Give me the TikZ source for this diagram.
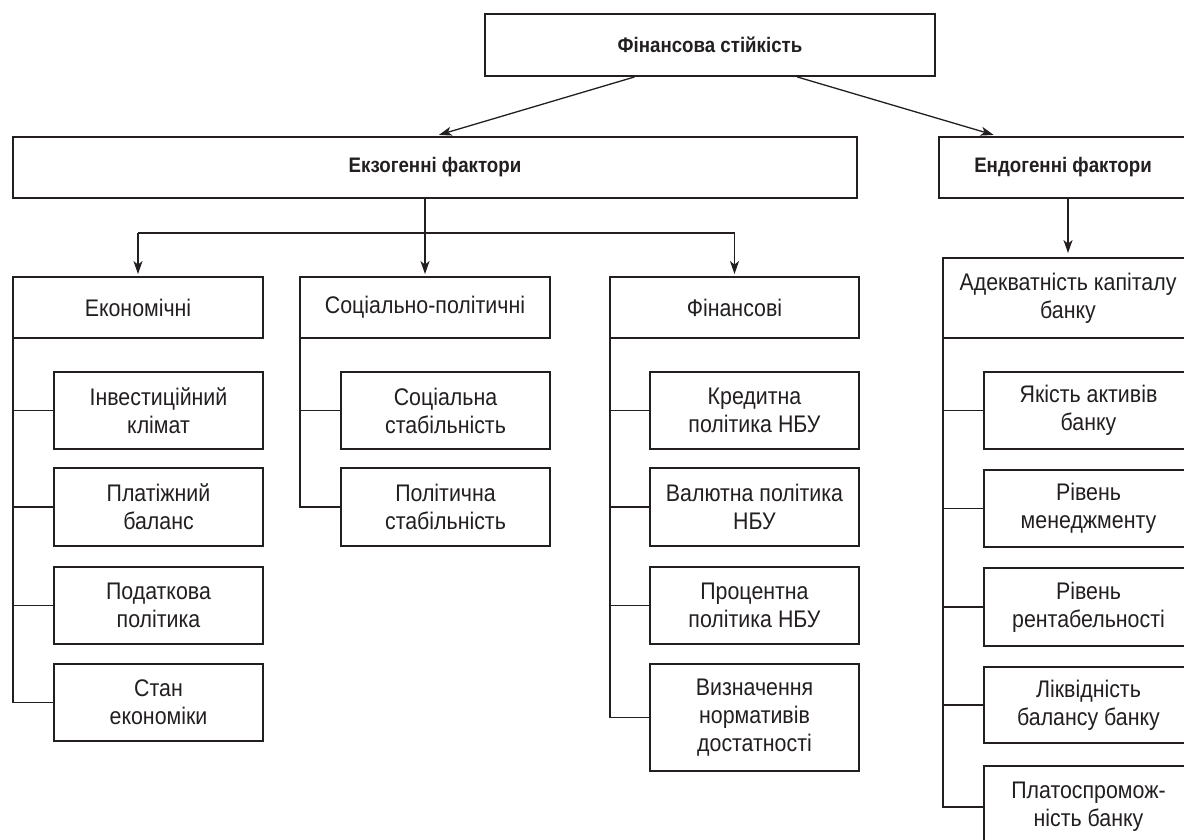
\documentclass[tikz,border=0pt]{standalone}
\usepackage{fontspec}
\setmainfont{Liberation Sans}[FakeStretch=0.89]
\usetikzlibrary{arrows.meta,calc}
\definecolor{ink}{HTML}{231F20}
\begin{document}
\begin{tikzpicture}[x=1pt,y=-1pt,
  box/.style={draw=ink, line width=1.9pt, inner sep=0pt, align=center,
    text=ink, font=\fontsize{24}{28}\selectfont},
  hbox/.style={box, font=\fontsize{21}{25}\selectfont\bfseries},
  conn/.style={draw=ink, line width=1.3pt},
  arr/.style={conn, -{Stealth[length=13pt,width=9pt,inset=3.5pt]}}]

\useasboundingbox (0,0) rectangle (1184,839);
\clip (0,0) rectangle (1184,839);
\fill[white] (0,0) rectangle (1184,839);

% top level
\node[hbox, minimum width=450, minimum height=62] (top) at (710,45) {Фінансова стійкість};
\node[hbox, minimum width=844, minimum height=61] (exo) at (435,167.5) {Екзогенні фактори};
\node[hbox, minimum width=248, minimum height=61] (endo) at (1063,167.5) {Ендогенні фактори};

% exogenous groups
\node[box, minimum width=250, minimum height=61] (ekon) at (138,307.5) {Економічні};
\node[box, minimum width=250, minimum height=61] (soc) at (425,307.5) {Соціально-політичні};
\node[box, minimum width=249, minimum height=61] (fin) at (734.5,307.5) {Фінансові};

% economic factors
\node[box, minimum width=209, minimum height=77] (e1) at (158.5,410.5) {Інвестиційний\\клімат};
\node[box, minimum width=209, minimum height=78] (e2) at (158.5,507) {Платіжний\\баланс};
\node[box, minimum width=209, minimum height=77] (e3) at (158.5,605.5) {Податкова\\політика};
\node[box, minimum width=209, minimum height=77] (e4) at (158.5,702.5) {Стан\\економіки};

% socio-political factors
\node[box, minimum width=209, minimum height=77] (s1) at (445.5,410.5) {Соціальна\\стабільність};
\node[box, minimum width=209, minimum height=78] (s2) at (445.5,507) {Політична\\стабільність};

% financial factors
\node[box, minimum width=209, minimum height=77] (f1) at (754.5,410.5) {Кредитна\\політика НБУ};
\node[box, minimum width=209, minimum height=78] (f2) at (754.5,507) {Валютна політика\\НБУ};
\node[box, minimum width=209, minimum height=77] (f3) at (754.5,605.5) {Процентна\\політика НБУ};
\node[box, minimum width=209, minimum height=107] (f4) at (754.5,717.5) {Визначення\\нормативів\\достатності};

% endogenous factors
\node[box, minimum width=250, minimum height=80] (adeq) at (1068,298) {Адекватність капіталу\\банку};
\node[box, minimum width=209, minimum height=77] (n1) at (1088.5,410.5) {Якість активів\\банку};
\node[box, minimum width=209, minimum height=77] (n2) at (1088.5,508.5) {Рівень\\менеджменту};
\node[box, minimum width=209, minimum height=78] (n3) at (1088.5,607) {Рівень\\рентабельності};
\node[box, minimum width=209, minimum height=76] (n4) at (1088.5,705) {Ліквідність\\балансу банку};
\node[box, minimum width=209, minimum height=82] (n5) at (1088.5,807) {Платоспромож-\\ність банку};

% arrows from the root
\draw[arr, shorten >=4pt] ($(top.south west)!0.333!(top.south east)$) -- (exo.north);
\draw[arr, shorten >=4pt] ($(top.south west)!0.693!(top.south east)$) -- ($(endo.north west)!0.238!(endo.north east)$);

% exogenous distribution bus
\coordinate (bus) at (0,233);
\draw[arr, shorten >=2pt] (exo.south -| soc.north) -- (soc.north);
\draw[conn] (bus -| ekon.north) -- (bus -| fin.north);
\draw[arr, shorten >=2pt] (bus -| ekon.north) -- (ekon.north);
\draw[arr, shorten >=2pt] (bus -| fin.north) -- (fin.north);

% endogenous arrow
\draw[arr, shorten >=4pt] (endo.south -| adeq.north) -- (adeq.north);

% trunks and branches
\draw[conn] ([xshift=1pt]ekon.south west) |- (e4.west);
\foreach \n in {e1,e2,e3} \draw[conn] ([xshift=1pt]ekon.south west |- \n.west) -- (\n.west);
\draw[conn] ([xshift=1pt]soc.south west) |- (s2.west);
\draw[conn] ([xshift=1pt]soc.south west |- s1.west) -- (s1.west);
\draw[conn] ([xshift=1pt]fin.south west) |- (f4.west);
\foreach \n in {f1,f2,f3} \draw[conn] ([xshift=1pt]fin.south west |- \n.west) -- (\n.west);
\draw[conn] ([xshift=1pt]adeq.south west) |- (n5.west);
\foreach \n in {n1,n2,n3,n4} \draw[conn] ([xshift=1pt]adeq.south west |- \n.west) -- (\n.west);
\end{tikzpicture}
\end{document}
